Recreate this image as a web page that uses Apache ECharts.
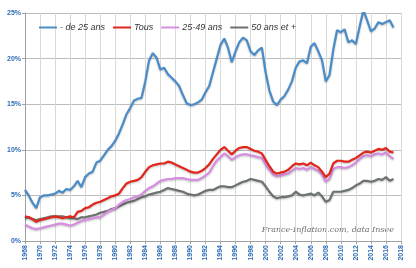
<!DOCTYPE html>
<html lang="fr">
<head>
<meta charset="UTF-8">
<title>Taux de chômage par âge</title>
<script src="https://cdn.jsdelivr.net/npm/echarts@6/dist/echarts.min.js"></script>
<style>
  html, body { margin: 0; padding: 0; background: #fff; }
  #main { width: 416px; height: 268px; }
</style>
</head>
<body>
<div id="main"></div>
<script>
// semestres 1968 -> 2017
var years = [];
for (var y = 1968; y <= 2017; y += 0.5) { years.push(y); }

var moins25 = [5.6, 5.0, 4.2, 3.6, 4.8, 5.0, 5.0, 5.1, 5.2, 5.5, 5.3, 5.7, 5.6, 6.0, 6.6, 5.9,
  7.0, 7.4, 7.6, 8.6, 8.8, 9.4, 10.0, 10.4, 11.0, 11.8, 12.8, 13.9, 14.6, 15.4, 15.6, 15.7,
  17.5, 19.8, 20.6, 20.1, 18.8, 19.0, 18.3, 17.9, 17.5, 17.0, 16.0, 15.1, 14.9, 15.0, 15.2, 15.5,
  16.3, 17.0, 18.5, 20.0, 21.5, 22.2, 21.2, 19.6, 20.8, 21.8, 22.3, 22.0, 20.8, 20.4, 20.9, 21.2,
  18.5, 16.5, 15.3, 14.9, 15.5, 15.9, 16.6, 17.5, 19.0, 19.7, 19.8, 19.5, 21.3, 21.7, 20.8, 19.8,
  17.5, 18.2, 21.0, 23.1, 22.9, 23.2, 21.8, 22.0, 21.6, 23.5, 25.3, 24.2, 23.0, 23.3, 24.0, 23.8,
  24.0, 24.2, 23.4];

var tous = [2.7, 2.6, 2.4, 2.1, 2.3, 2.4, 2.5, 2.6, 2.7, 2.6, 2.5, 2.6, 2.7, 2.6, 3.2, 3.3,
  3.6, 3.7, 4.0, 4.2, 4.3, 4.5, 4.7, 4.9, 5.0, 5.2, 5.8, 6.3, 6.5, 6.6, 6.7, 7.0,
  7.6, 8.1, 8.3, 8.4, 8.5, 8.5, 8.7, 8.6, 8.4, 8.2, 8.0, 7.8, 7.6, 7.5, 7.5, 7.7,
  8.0, 8.4, 9.0, 9.5, 10.0, 10.3, 9.9, 9.5, 9.9, 10.2, 10.3, 10.3, 10.1, 9.9, 9.8, 9.6,
  8.9, 8.2, 7.6, 7.4, 7.5, 7.6, 7.8, 8.2, 8.5, 8.4, 8.5, 8.3, 8.6, 8.3, 8.1, 7.6,
  7.0, 7.4, 8.5, 8.8, 8.8, 8.7, 8.7, 8.9, 9.1, 9.4, 9.7, 9.8, 9.7, 9.9, 10.1, 10.0,
  10.2, 9.8, 9.7];

var age2549 = [1.8, 1.6, 1.4, 1.3, 1.4, 1.5, 1.6, 1.7, 1.8, 1.9, 1.9, 1.8, 1.7, 1.8, 2.0, 2.2,
  2.3, 2.4, 2.5, 2.6, 2.6, 2.9, 3.2, 3.4, 3.6, 4.0, 4.3, 4.5, 4.6, 4.8, 4.9, 5.1,
  5.5, 5.8, 6.0, 6.3, 6.6, 6.7, 6.8, 6.8, 6.9, 6.9, 6.9, 6.8, 6.7, 6.7, 6.7, 6.9,
  7.2, 7.5, 8.2, 8.8, 9.2, 9.6, 9.3, 8.9, 9.2, 9.4, 9.5, 9.5, 9.4, 9.3, 9.2, 9.1,
  8.4, 7.8, 7.3, 7.1, 7.2, 7.3, 7.4, 7.7, 8.0, 7.9, 8.0, 7.8, 8.1, 7.9, 7.7, 7.3,
  6.5, 6.8, 7.9, 8.1, 8.1, 8.0, 8.1, 8.3, 8.6, 9.0, 9.3, 9.4, 9.3, 9.5, 9.6, 9.5,
  9.7, 9.3, 9.0];

var age50 = [2.5, 2.6, 2.4, 2.3, 2.4, 2.5, 2.6, 2.7, 2.7, 2.7, 2.7, 2.6, 2.5, 2.5, 2.4, 2.6,
  2.6, 2.7, 2.8, 2.9, 3.1, 3.2, 3.3, 3.5, 3.6, 3.8, 4.0, 4.2, 4.3, 4.4, 4.6, 4.8,
  4.9, 5.1, 5.2, 5.3, 5.4, 5.6, 5.8, 5.7, 5.6, 5.5, 5.4, 5.2, 5.1, 5.0, 5.1, 5.3,
  5.5, 5.6, 5.6, 5.8, 6.0, 6.0, 5.9, 5.9, 6.1, 6.3, 6.5, 6.6, 6.8, 6.7, 6.6, 6.5,
  6.0, 5.4, 4.9, 4.7, 4.8, 4.8, 4.9, 5.0, 5.4, 5.1, 5.0, 5.1, 5.2, 5.0, 5.3, 4.9,
  4.3, 4.5, 5.4, 5.4, 5.4, 5.5, 5.6, 5.8, 6.1, 6.3, 6.6, 6.6, 6.5, 6.6, 6.8, 6.7,
  7.0, 6.6, 6.8];

var seriesNames = ['- de 25 ans', 'Tous', '25-49 ans', '50 ans et +'];
var seriesColors = ['#4a8cc8', '#e3261b', '#d88ee0', '#6b736c'];
var seriesData = [moins25, tous, age2549, age50];

function pairs(vals) {
  return vals.map(function (v, i) { return [years[i], v]; });
}

var myChart = echarts.init(document.getElementById('main'));

var option = {
  backgroundColor: '#ffffff',
  animation: false,
  grid: { left: 25, right: 15, top: 13, bottom: 27 },
  legend: {
    top: 18,
    left: 34,
    itemGap: 8,
    itemWidth: 18,
    itemHeight: 2,
    icon: 'rect',
    data: seriesNames,
    textStyle: { fontSize: 9, fontStyle: 'italic', color: '#333', fontFamily: 'Liberation Sans', padding: [0, 0, 0, -2] }
  },
  xAxis: {
    type: 'value',
    min: 1968,
    max: 2018,
    interval: 2,
    axisLine: { lineStyle: { color: '#a0a0a0' } },
    axisTick: { length: 3, lineStyle: { color: '#a0a0a0' } },
    axisLabel: {
      rotate: 90,
      fontSize: 7,
      fontWeight: 'bold',
      color: '#2d6cb5',
      margin: 4,
      formatter: function (v) { return String(v); }
    },
    splitLine: { show: true, lineStyle: { color: '#d9d9d9', width: 1 } }
  },
  yAxis: {
    type: 'value',
    min: 0,
    max: 25,
    interval: 5,
    axisLine: { show: true, lineStyle: { color: '#a0a0a0' } },
    axisTick: { show: true, length: 3, lineStyle: { color: '#a0a0a0' } },
    axisLabel: {
      fontSize: 7,
      fontWeight: 'bold',
      color: '#2d6cb5',
      margin: 4,
      formatter: '{value}%'
    },
    splitLine: { lineStyle: { color: '#bdbdbd', width: 1 } }
  },
  graphic: [{
    type: 'text',
    right: 22,
    top: 226,
    style: {
      text: 'France-Inflation.com, data Insee',
      fontSize: 8,
      fontStyle: 'italic',
      fontFamily: 'DejaVu Serif',
      fill: '#707070'
    }
  }],
  series: seriesNames.map(function (name, i) {
    return {
      name: name,
      type: 'line',
      data: pairs(seriesData[i]),
      showSymbol: false,
      z: 10 - i,
      lineStyle: {
        color: seriesColors[i],
        width: 2.2,
        shadowColor: 'rgba(0,0,0,0.25)',
        shadowBlur: 2,
        shadowOffsetY: 1
      },
      itemStyle: { color: seriesColors[i] }
    };
  })
};
myChart.setOption(option);
</script>
</body>
</html>
